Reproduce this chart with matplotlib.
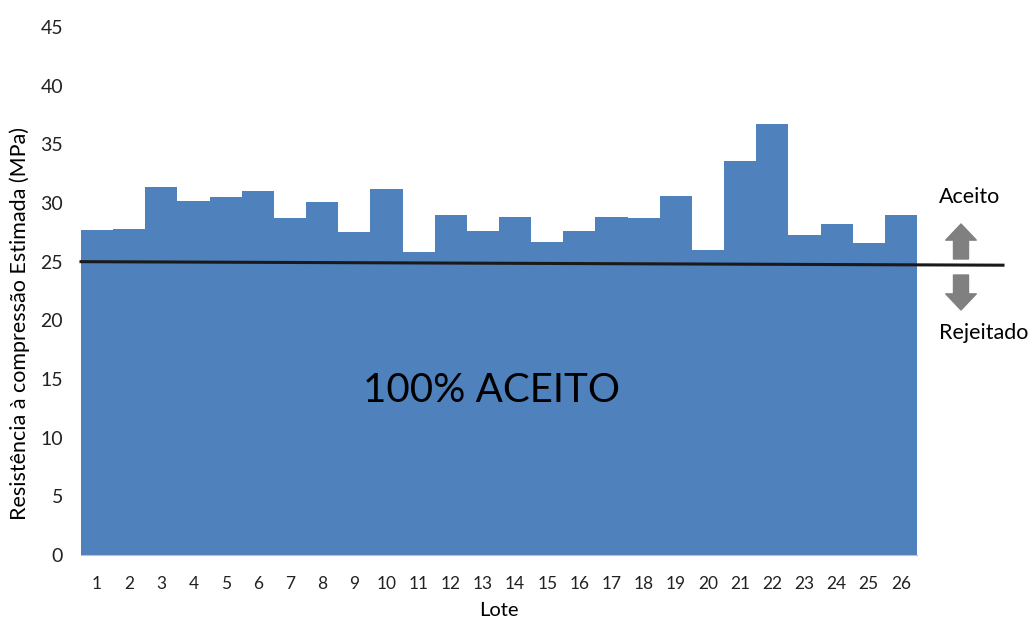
"""
Resistencia a compressao estimada por lote
"""

import numpy as np
import matplotlib.pyplot as plt

plt.rcParams['font.family'] = ['Lato', 'DejaVu Sans']

lotes = [str(i) for i in range(1, 27)]
resistencia = [27.7, 27.8, 31.4, 30.2, 30.5, 31.0, 28.7, 30.1, 27.5, 31.2,
               25.8, 29.0, 27.6, 28.8, 26.7, 27.6, 28.8, 28.7, 30.6, 26.0,
               33.6, 36.7, 27.3, 28.2, 26.6, 29.0]
limite = [25.0, 24.7]   # linha de aceitacao (inicio, fim)
y_ticks = list(range(0, 50, 5))

W, H = 1035, 621
fig = plt.figure(figsize=(W / 100, H / 100), dpi=100)
ax = fig.add_axes([81 / W, 1 - 555 / H, (917 - 81) / W, (555 - 27) / H])

x = np.arange(1, len(lotes) + 1)
ax.bar(x, resistencia, width=1.0, color='#4F81BD', linewidth=0)

ax.set_xlim(0.5, len(lotes) + 0.5)
ax.set_ylim(0, 45)
ax.set_yticks(y_ticks)
ax.set_xticks(x)
ax.set_xticklabels(lotes)
ax.tick_params(length=0, colors='#222222')
ax.tick_params(axis='y', pad=13, labelsize=14)
ax.tick_params(axis='x', pad=15, labelsize=12.5)
for side in ['top', 'right', 'left']:
    ax.spines[side].set_visible(False)
ax.spines['bottom'].set_color('#BFBFBF')

ax.set_xlabel('Lote', fontsize=14.5, labelpad=7)
ax.set_ylabel('Resistência à compressão Estimada (MPa)', fontsize=15.5)
ax.yaxis.set_label_coords(-0.061, (555 - 323) / 528)

# linha limite, passa alem da area do grafico
x_end = len(lotes) + 0.5 + (1003 - 917) / ((917 - 81) / len(lotes))
ax.plot([0.5, x_end], limite, color='#1a1a1a', lw=2.2, clip_on=False, zorder=3)

ax.text(13.27, 14, '100% ACEITO', fontsize=29, ha='center', va='center', color='black')

# setas aceito / rejeitado
arrow_style = 'simple,head_length=0.58,head_width=1.1,tail_width=0.54'
ax.annotate('', xy=(961 / W, 1 - 224 / H), xytext=(961 / W, 1 - 259 / H),
            xycoords='figure fraction', textcoords='figure fraction',
            arrowprops=dict(arrowstyle=arrow_style, color='#808080', mutation_scale=20,
                            shrinkA=0, shrinkB=0))
ax.annotate('', xy=(961 / W, 1 - 310 / H), xytext=(961 / W, 1 - 275 / H),
            xycoords='figure fraction', textcoords='figure fraction',
            arrowprops=dict(arrowstyle=arrow_style, color='#808080', mutation_scale=20,
                            shrinkA=0, shrinkB=0))
fig.text(970 / W, 1 - 197 / H, 'Aceito', fontsize=15.5, ha='center', va='center')
fig.text(984 / W, 1 - 333 / H, 'Rejeitado', fontsize=15.5, ha='center', va='center')

fig.savefig('out.png', dpi=100)
